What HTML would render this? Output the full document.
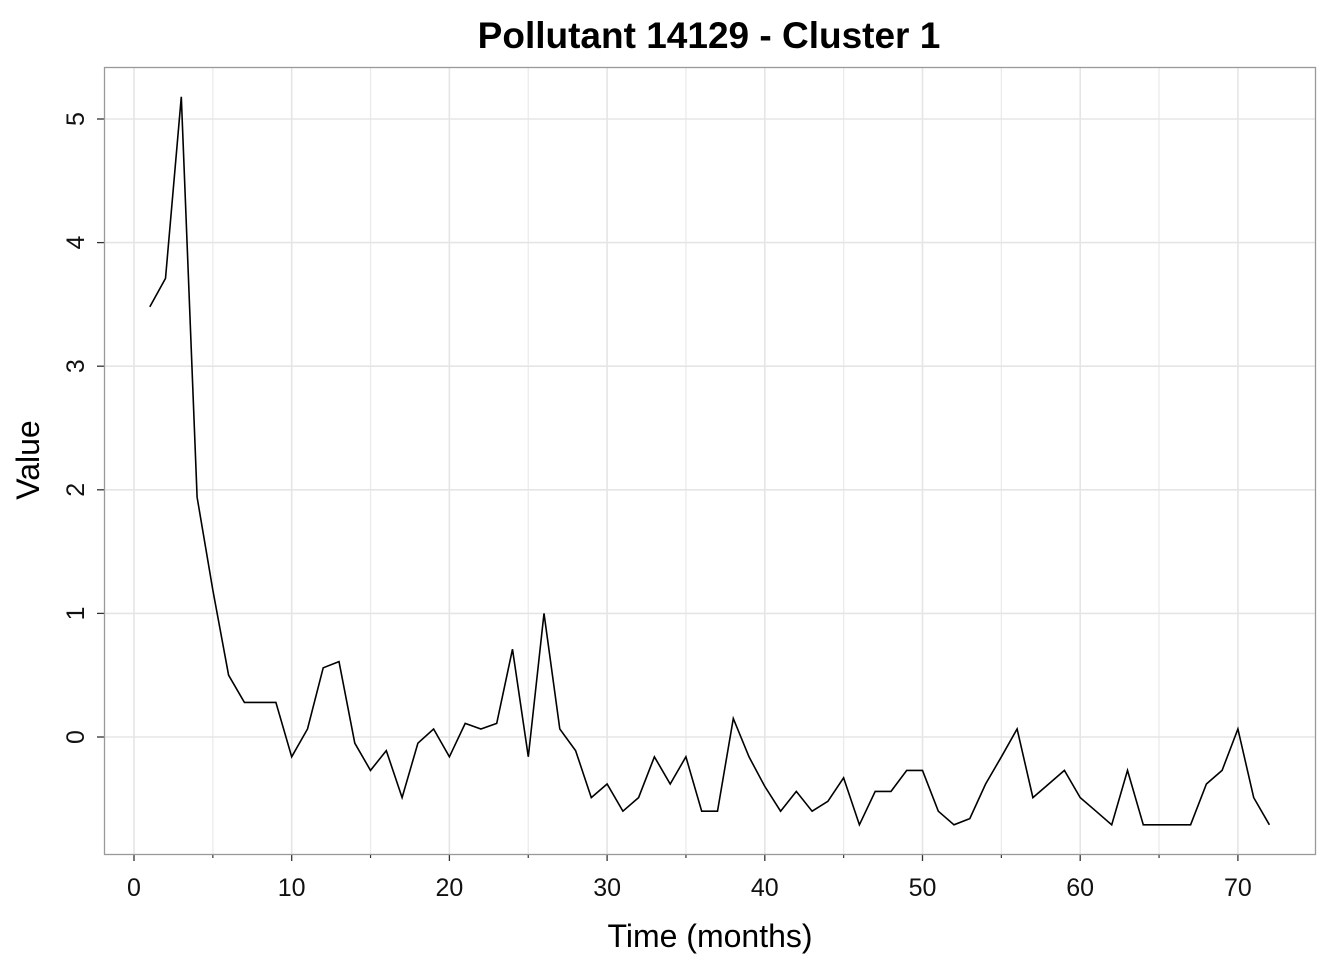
<!DOCTYPE html>
<html><head><meta charset="utf-8"><style>
html,body{margin:0;padding:0;background:#fff;}
svg{display:block;font-family:"Liberation Sans",Arial,sans-serif;}
</style></head><body>
<svg id="chart" width="1344" height="960">
<text x="709" y="48" text-anchor="middle" font-size="37" font-weight="bold">Pollutant 14129 - Cluster 1</text>
<g id="grid"></g>
<g id="axes"></g>
<path id="series" fill="none" stroke="#000" stroke-width="1.6"></path>
<rect x="104.5" y="67.5" width="1211" height="787" fill="none" stroke="#999" stroke-width="1.3"/>
<text x="710" y="947" text-anchor="middle" font-size="32">Time (months)</text>
<text transform="translate(39,460) rotate(-90)" text-anchor="middle" font-size="32">Value</text>
</svg>
<script>
const months = Array.from({length:72},(_,i)=>i+1);
const values = [3.48,3.71,5.18,1.94,1.19,0.50,0.28,0.28,0.28,-0.16,0.065,0.56,0.61,-0.05,-0.27,-0.11,-0.49,-0.05,0.065,-0.16,0.11,0.065,0.11,0.71,-0.16,1.0,0.065,-0.11,-0.49,-0.38,-0.60,-0.49,-0.16,-0.38,-0.16,-0.6,-0.6,0.15,-0.16,-0.4,-0.6,-0.44,-0.6,-0.52,-0.33,-0.71,-0.44,-0.44,-0.27,-0.27,-0.6,-0.71,-0.66,-0.38,-0.16,0.065,-0.49,-0.38,-0.27,-0.49,-0.6,-0.71,-0.27,-0.71,-0.71,-0.71,-0.71,-0.38,-0.27,0.065,-0.49,-0.71];
const xTicks = [0,10,20,30,40,50,60,70];
const xMinor = [5,15,25,35,45,55,65];
const yTicks = [0,1,2,3,4,5];
const X = v => 134 + v*15.77;
const Y = v => 737 - v*123.6;
const NS='http://www.w3.org/2000/svg';
const grid=document.getElementById('grid'), axes=document.getElementById('axes');
function mk(tag,attrs,parent){const e=document.createElementNS(NS,tag);for(const k in attrs)e.setAttribute(k,attrs[k]);parent.appendChild(e);return e;}
xMinor.forEach(t=>{
  const l=mk('line',{x1:X(t),x2:X(t),y1:67,y2:854,stroke:'#ebebeb','stroke-width':1.3},grid);
  
  
  const k=mk('line',{x1:X(t),x2:X(t),y1:854,y2:858,stroke:'#333','stroke-width':1.2},axes);
  
  
});
xTicks.forEach(t=>{
  const l=mk('line',{x1:X(t),x2:X(t),y1:67,y2:854,stroke:'#e5e5e5','stroke-width':1.6},grid);
  
  
  const k=mk('line',{x1:X(t),x2:X(t),y1:854,y2:861,stroke:'#333','stroke-width':1.3},axes);
  
  
  const tx=mk('text',{x:X(t),y:896,'text-anchor':'middle','font-size':25,fill:'#111'},axes);
  tx.textContent=t;
  
  
});
yTicks.forEach(t=>{
  const l=mk('line',{x1:104,x2:1315,y1:Y(t),y2:Y(t),stroke:'#e5e5e5','stroke-width':1.6},grid);
  
  
  const k=mk('line',{x1:97,x2:104,y1:Y(t),y2:Y(t),stroke:'#333','stroke-width':1.3},axes);
  
  
  const tx=mk('text',{transform:`translate(84,${Y(t)}) rotate(-90)`,'text-anchor':'middle','font-size':25,fill:'#111'},axes);
  tx.textContent=t;
  
  
});
document.getElementById('series').setAttribute('d',months.map((m,i)=>(i?'L':'M')+X(m).toFixed(1)+' '+Y(values[i]).toFixed(1)).join(' '));
</script>
</body></html>
